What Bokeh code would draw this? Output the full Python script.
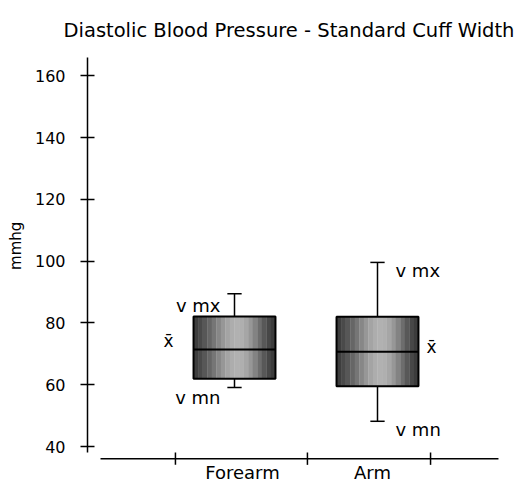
from bokeh.plotting import figure
from bokeh.models import Range1d, FixedTicker
from bokeh.core.properties import value
from bokeh.embed import file_html
from bokeh.resources import INLINE

# ---- data ----
categories = ["Forearm", "Arm"]
v_max = [89.5, 99.6]
q_top = [82.1, 82.0]
mean_v = [71.4, 70.7]
q_bot = [62.0, 59.5]
v_min = [59.1, 48.2]
y_ticks = [40, 60, 80, 100, 120, 140, 160]

FONT = "DejaVu Sans"
pos = [1, 2]
box_w = 0.573

W, H = 525, 486
ML, MT = 87, 57
p = figure(width=W, height=H, output_backend="svg", toolbar_location=None,
           x_range=Range1d(-0.028, 3.035), y_range=Range1d(27.1, 165.9),
           min_border_left=ML, min_border_right=0, min_border_top=MT, min_border_bottom=0,
           x_axis_location=None, background_fill_color="white", border_fill_color="white")
p.outline_line_color = None
p.grid.visible = False

# title
p.title.text = "Diastolic Blood Pressure - Standard Cuff Width"
p.title.text_font = FONT
p.title.text_font_size = "19.5px"
p.title.text_font_style = "normal"
p.title.text_color = "black"
p.title.align = "left"
p.title.offset = -24
p.title.standoff = 32

# y axis
ya = p.yaxis[0]
ya.ticker = FixedTicker(ticks=y_ticks)
ya.bounds = (38.1, 165.9)
ya.major_tick_in = 7
ya.major_tick_out = 7
ya.minor_tick_line_color = None
ya.major_label_standoff = 15
ya.major_label_text_font = FONT
ya.major_label_text_font_size = "16px"
ya.major_label_text_color = "black"
ya.axis_line_width = 1.5
ya.axis_line_color = "black"
ya.major_tick_line_width = 1.5
ya.major_tick_line_color = "black"
# leading no-break spaces lift the rotated label toward the upper part of the axis
ya.axis_label = "\u00a0" * 11 + "mmhg"
ya.axis_label_text_font = FONT
ya.axis_label_text_font_size = "15px"
ya.axis_label_text_font_style = "normal"
ya.axis_label_text_color = "black"
ya.axis_label_standoff = 7

# x axis (drawn manually, offset below)
x_axis_y = 36.1
p.segment(x0=[0.063], y0=[x_axis_y], x1=[2.846], y1=[x_axis_y], line_color="black", line_width=1.5)
xt = [0.587, 1.51, 2.371]
p.segment(x0=xt, y0=[x_axis_y - 2.0] * 3, x1=xt, y1=[x_axis_y + 2.0] * 3, line_color="black", line_width=1.5)
p.text(x=[1.056, 1.965], y=[x_axis_y] * 2, text=categories, text_font=value(FONT),
       text_font_size="18px", text_align="center", text_baseline="top", y_offset=3)

# gradient-filled boxes
grays = ["#3e3e3e", "#4a4a4a", "#575757", "#666666", "#767676", "#878787", "#979797", "#a4a4a4",
         "#adadad", "#b1b1b1", "#afafaf", "#a6a6a6", "#979797", "#838383", "#6d6d6d", "#585858",
         "#474747", "#3c3c3c"]
n = len(grays)
L, R, T, B, C = [], [], [], [], []
for i, c in enumerate(pos):
    x0 = c - box_w / 2
    for k in range(n):
        L.append(x0 + box_w * k / n)
        R.append(x0 + box_w * (k + 1) / n + 0.002)
        T.append(q_top[i])
        B.append(q_bot[i])
        C.append(grays[k])
p.quad(left=L, right=R, top=T, bottom=B, fill_color=C, line_color=None)
p.quad(left=[c - box_w / 2 for c in pos], right=[c + box_w / 2 for c in pos], top=q_top, bottom=q_bot,
       fill_color=None, line_color="black", line_width=2)
p.segment(x0=[c - box_w / 2 for c in pos], x1=[c + box_w / 2 for c in pos], y0=mean_v, y1=mean_v,
          line_color="black", line_width=2)

# whiskers
p.segment(x0=pos, x1=pos, y0=q_top, y1=v_max, line_color="black", line_width=1.5)
p.segment(x0=pos, x1=pos, y0=q_bot, y1=v_min, line_color="black", line_width=1.5)
cap = 0.05
p.segment(x0=[c - cap for c in pos], x1=[c + cap for c in pos], y0=v_max, y1=v_max, line_color="black", line_width=1.5)
p.segment(x0=[c - cap for c in pos], x1=[c + cap for c in pos], y0=v_min, y1=v_min, line_color="black", line_width=1.5)

# annotations
fs = "18px"
# Forearm labels on the left
p.text(x=[pos[0]], y=[v_max[0]], text=["v mx"], text_font=value(FONT), text_font_size=fs,
       text_align="right", text_baseline="middle", x_offset=-14, y_offset=12)
p.text(x=[pos[0]], y=[v_min[0]], text=["v mn"], text_font=value(FONT), text_font_size=fs,
       text_align="right", text_baseline="middle", x_offset=-14, y_offset=10)
p.text(x=[pos[0] - box_w / 2], y=[mean_v[0]], text=["x\u0304"], text_font=value(FONT), text_font_size="17px",
       text_align="center", text_baseline="middle", x_offset=-25, y_offset=-9)
# Arm labels on the right
p.text(x=[pos[1]], y=[v_max[1]], text=["v mx"], text_font=value(FONT), text_font_size=fs,
       text_align="left", text_baseline="middle", x_offset=18, y_offset=8)
p.text(x=[pos[1]], y=[v_min[1]], text=["v mn"], text_font=value(FONT), text_font_size=fs,
       text_align="left", text_baseline="middle", x_offset=18, y_offset=8)
p.text(x=[pos[1] + box_w / 2], y=[mean_v[1]], text=["x\u0304"], text_font=value(FONT), text_font_size="17px",
       text_align="center", text_baseline="middle", x_offset=13, y_offset=-5)

open("out.html", "w").write(file_html(p, INLINE))
